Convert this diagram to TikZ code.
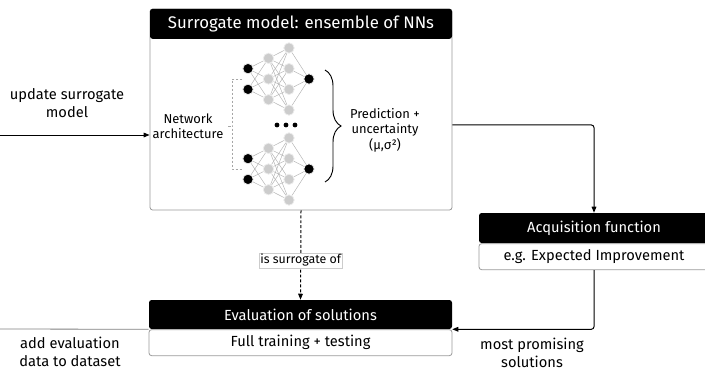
\documentclass[tikz,border=0pt]{standalone}
\usepackage{fontspec}
\setmainfont{Fira Sans}
\usetikzlibrary{arrows.meta,positioning,calc,backgrounds,decorations.pathreplacing}

\begin{document}
\begin{tikzpicture}[x=0.75pt, y=-0.75pt,
    frame/.style={draw=gray!80, rounded corners=2pt, line width=0.6pt, inner sep=0pt},
    head/.style={fill=black, text=white, rounded corners=2pt, inner sep=0pt, font=\fontsize{11}{13}\selectfont},
    sub/.style={draw=gray!80, rounded corners=2pt, line width=0.6pt, inner sep=0pt, font=\fontsize{11}{13}\selectfont},
    lbl/.style={align=center, font=\fontsize{11}{13.5}\selectfont},
    small/.style={align=center, font=\fontsize{9.7}{11.5}\selectfont},
    arr/.style={-{Triangle[length=4.5pt,width=3.5pt]}, line width=0.75pt},
    archline/.style={gray!70, line width=0.35pt, dash pattern=on 2pt off 1pt},
    neuron/.style={circle, minimum size=7.8pt, inner sep=0pt, draw=gray!15, line width=0.6pt},
    io/.style={neuron, fill=black},
    hid/.style={neuron, fill=gray!40},
    syn/.style={gray!60, line width=0.35pt},
]
    \useasboundingbox (0,0) rectangle (705,372);
    \clip (0,0) rectangle (705,372);

    % surrogate model box
    \node[frame, minimum width=226.5pt, minimum height=150.75pt] (surrogate) at (301,109.5) {};
    \node[head, minimum width=226.5pt, minimum height=22.5pt, anchor=north, font=\fontsize{12.6}{14}\selectfont] (surrhead) at (surrogate.north) {Surrogate model: ensemble of NNs};

    % two small networks
    \foreach \net/\cy in {A/79, B/169} {
        \foreach \i in {1,2}
            \node[io] (\net-i\i) at (248, {\cy+20.7*(\i-1.5)}) {};
        \foreach \i in {1,2,3}
            \node[hid] (\net-h\i) at (268.5, {\cy+20.7*(\i-2)}) {};
        \foreach \i in {1,...,4}
            \node[hid] (\net-g\i) at (289, {\cy+20.7*(\i-2.5)}) {};
        \node[io] (\net-o) at (309, \cy) {};
    }
    \begin{scope}[on background layer]
        \foreach \net in {A,B} {
            \foreach \i in {1,2}
                \foreach \j in {1,2,3}
                    \draw[syn] (\net-i\i) -- (\net-h\j);
            \foreach \i in {1,2,3}
                \foreach \j in {1,...,4}
                    \draw[syn] (\net-h\i) -- (\net-g\j);
            \foreach \j in {1,...,4}
                \draw[syn] (\net-g\j) -- (\net-o);
        }
    \end{scope}
    \foreach \x in {277,286,295}
        \fill (\x,125) circle (1.8pt);

    % architecture bracket
    \node[small] (arch) at (188,126) {Network\\architecture};
    \coordinate (brk) at (232,126);
    \draw[archline] (arch.east) -- (brk);
    \draw[archline] ($(A-i1.west)!0.5!(A-i2.west)$) -| (brk) |- ($(B-i1.west)!0.5!(B-i2.west)$);

    % output brace
    \draw[decorate, decoration={brace, amplitude=12pt}, line width=0.7pt] (325,70) -- (325,182);
    \node[small] (pred) at (385,130) {Prediction +\\uncertainty\\(μ,σ²)};

    % acquisition function
    \node[head, minimum width=172.5pt, minimum height=22.5pt] (acqhead) at (594,228) {Acquisition function};
    \node[sub, minimum width=172.5pt, minimum height=19.5pt, below=0pt of acqhead] (acqbody) {e.g. Expected Improvement};

    % evaluation
    \node[head, minimum width=227.25pt, minimum height=21.75pt] (evalhead) at (300.5,314.5) {Evaluation of solutions};
    \node[sub, minimum width=227.25pt, minimum height=19.5pt, below=0pt of evalhead] (evalbody) {Full training + testing};

    % connectors
    \coordinate (upstart) at (0,135);
    \draw[arr] (upstart) -- (upstart -| surrogate.west);
    \node[lbl] (uplbl) at (67,103) {update surrogate\\model};

    \draw[arr, rounded corners=2pt] ([yshift=-11.6pt]surrogate.east) -| (acqhead.north);
    \draw[arr, rounded corners=2pt] (acqbody.south) |- (evalhead.south east);
    \node[lbl] (mplbl) at (532,353) {most promising\\solutions};

    \draw[arr, dash pattern=on 2.2pt off 1.5pt] (surrogate.south) -- node[pos=0.56, solid, fill=white, draw=gray!40, line width=0.5pt, inner sep=1pt, font=\fontsize{9.3}{10}\selectfont] (surrof) {is surrogate of} (evalhead.north);

    \coordinate (addend) at (0,329);
    \draw[gray, line width=0.6pt] (evalhead.south west) -- (addend);
    \node[lbl] (addlbl) at (70,352) {add evaluation\\data to dataset};
\end{tikzpicture}
\end{document}
